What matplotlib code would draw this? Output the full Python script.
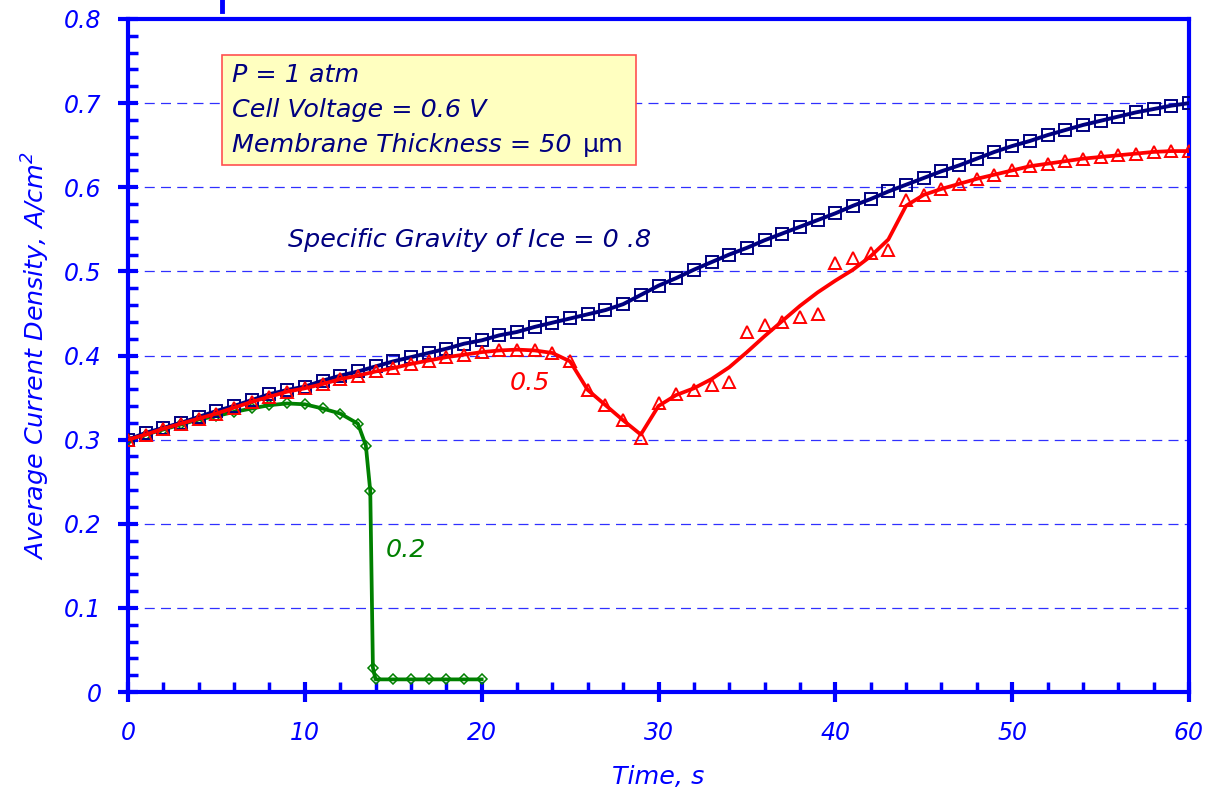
import numpy as np
import matplotlib

matplotlib.use("Agg")
import matplotlib.pyplot as plt
from matplotlib.lines import Line2D
from matplotlib.patches import Rectangle

plt.rcParams["font.family"] = ["DejaVu Sans"]
plt.rcParams["mathtext.fontset"] = "dejavusans"

# time axis (s)
t_full = list(range(0, 61))
t_green = [0, 1, 2, 3, 4, 5, 6, 7, 8, 9, 10, 11, 12, 13, 13.45, 13.7, 13.85, 14,
           15, 16, 17, 18, 19, 20]

# specific gravity of ice = 0.8 (squares)
sg08 = [0.300, 0.308, 0.314, 0.320, 0.327, 0.334, 0.340, 0.347, 0.354, 0.359,
        0.363, 0.370, 0.376, 0.381, 0.387, 0.393, 0.398, 0.403, 0.408, 0.414,
        0.418, 0.424, 0.428, 0.434, 0.439, 0.444, 0.449, 0.454, 0.461, 0.472,
        0.483, 0.492, 0.502, 0.511, 0.520, 0.528, 0.537, 0.545, 0.553, 0.561,
        0.569, 0.578, 0.586, 0.595, 0.603, 0.611, 0.619, 0.626, 0.634, 0.642,
        0.649, 0.655, 0.662, 0.668, 0.674, 0.679, 0.684, 0.689, 0.693, 0.697,
        0.700]

# specific gravity 0.5 (triangles, raw points)
sg05_pts = [0.300, 0.306, 0.313, 0.319, 0.325, 0.331, 0.338, 0.345, 0.351, 0.357,
            0.361, 0.366, 0.372, 0.376, 0.381, 0.385, 0.390, 0.394, 0.398, 0.401,
            0.404, 0.406, 0.407, 0.406, 0.403, 0.393, 0.359, 0.341, 0.323, 0.302,
            0.343, 0.354, 0.359, 0.365, 0.369, 0.428, 0.436, 0.440, 0.446, 0.449,
            0.510, 0.516, 0.522, 0.526, 0.585, 0.591, 0.598, 0.604, 0.610, 0.615,
            0.620, 0.625, 0.628, 0.631, 0.634, 0.636, 0.638, 0.640, 0.642, 0.643,
            0.643]

# specific gravity 0.5 (smoothed curve)
sg05_line = [0.300, 0.306, 0.313, 0.319, 0.325, 0.331, 0.338, 0.345, 0.351, 0.357,
             0.361, 0.366, 0.372, 0.376, 0.381, 0.385, 0.390, 0.394, 0.398, 0.401,
             0.404, 0.406, 0.407, 0.406, 0.403, 0.393, 0.359, 0.341, 0.323, 0.306,
             0.340, 0.353, 0.361, 0.372, 0.386, 0.404, 0.423, 0.441, 0.459, 0.475,
             0.489, 0.502, 0.518, 0.538, 0.578, 0.591, 0.598, 0.604, 0.610, 0.615,
             0.620, 0.625, 0.628, 0.631, 0.634, 0.636, 0.638, 0.640, 0.642, 0.643,
             0.643]

# specific gravity 0.2 (diamonds)
sg02 = [0.300, 0.306, 0.312, 0.318, 0.324, 0.328, 0.333, 0.337, 0.341, 0.343,
        0.342, 0.337, 0.331, 0.319, 0.293, 0.239, 0.029, 0.015,
        0.015, 0.015, 0.015, 0.015, 0.015, 0.015]

BLUE = "#0000FF"
NAVY = "#000080"
RED = "#FF0000"
GREEN = "#008000"
FS = 17      # tick labels
FS_TXT = 18.3  # annotations
FS_LAB = 18.3  # axis titles

fig = plt.figure(figsize=(12.06, 7.95), dpi=100)
ax = fig.add_axes([128 / 1206, 1 - 692 / 795, (1189 - 128) / 1206, (692 - 19) / 795])

# horizontal dashed grid
for gy in np.arange(0.1, 0.75, 0.1):
    ax.axhline(gy, color="#3030FF", lw=0.9, ls=(0, (8, 5)), zorder=1)

ax.plot(t_green, sg02, color=GREEN, lw=2.7, marker="D", ms=5.5, mfc="none",
        mec=GREEN, mew=1.1, zorder=3)
ax.plot(t_full, sg08, color=NAVY, lw=2.8, marker="s", ms=8, mfc="none",
        mec=NAVY, mew=1.4, zorder=4)
ax.plot(t_full, sg05_line, color=RED, lw=2.7, zorder=5)
ax.plot(t_full, sg05_pts, ls="none", marker="^", ms=8.5, mfc="none",
        mec=RED, mew=1.4, zorder=6)

ax.set_xlim(0, 60)
ax.set_ylim(0, 0.8)
ax.set_xticks(range(0, 61, 10))
ax.set_xticks(range(0, 61, 2), minor=True)
ax.set_yticks(np.round(np.arange(0, 0.81, 0.1), 1))
ax.set_yticks(np.round(np.arange(0, 0.81, 0.02), 2), minor=True)
ax.set_yticklabels(["0" if v == 0 else f"{v:.1f}" for v in np.arange(0, 0.81, 0.1)])

for sp in ax.spines.values():
    sp.set_color(BLUE)
    sp.set_linewidth(3)

ax.tick_params(which="major", direction="inout", length=14, width=3, color=BLUE,
               labelcolor=BLUE, labelsize=FS, top=False, right=False)
ax.tick_params(which="minor", direction="in", length=7, width=2.5, color=BLUE,
               top=False, right=False)
ax.tick_params(axis="y", which="major", pad=12)
ax.tick_params(axis="x", which="major", pad=14)
for lab in ax.get_xticklabels() + ax.get_yticklabels():
    lab.set_style("italic")

ax.set_xlabel("Time, s", color=BLUE, fontsize=FS_LAB, style="italic", labelpad=14)
ax.set_ylabel("Average Current Density, A/cm$\\mathregular{^2}$", color=BLUE,
              fontsize=FS_LAB, style="italic", labelpad=9)

# info box
ax.add_patch(Rectangle((5.32, 0.626), 23.41, 0.131, facecolor="#FFFFC0",
                       edgecolor="#FF5050", lw=1.2, zorder=7))
ax.text(5.88, 0.733, "P = 1 atm", color=NAVY, fontsize=FS_TXT, style="italic",
        va="center", zorder=8)
ax.text(5.88, 0.692, "Cell Voltage = 0.6 V", color=NAVY, fontsize=FS_TXT,
        style="italic", va="center", zorder=8)
ax.text(5.88, 0.650, "Membrane Thickness = 50", color=NAVY, fontsize=FS_TXT,
        style="italic", va="center", zorder=8)
ax.text(25.75, 0.650, "μm", color=NAVY, fontsize=FS_TXT, va="center", zorder=8)

ax.text(9.05, 0.537, "Specific Gravity of Ice = 0 .8", color=NAVY, fontsize=FS_TXT,
        style="italic", va="center", zorder=8)
ax.text(21.6, 0.367, "0.5", color=RED, fontsize=FS_TXT, style="italic", va="center")
ax.text(14.6, 0.169, "0.2", color=GREEN, fontsize=FS_TXT, style="italic", va="center")

# stub of something cut off above the plot
fig.add_artist(Line2D([222 / 1206, 222 / 1206], [1.0, 1 - 11 / 795], color=BLUE,
                      lw=3.5))

fig.savefig("out.png", dpi=100)
